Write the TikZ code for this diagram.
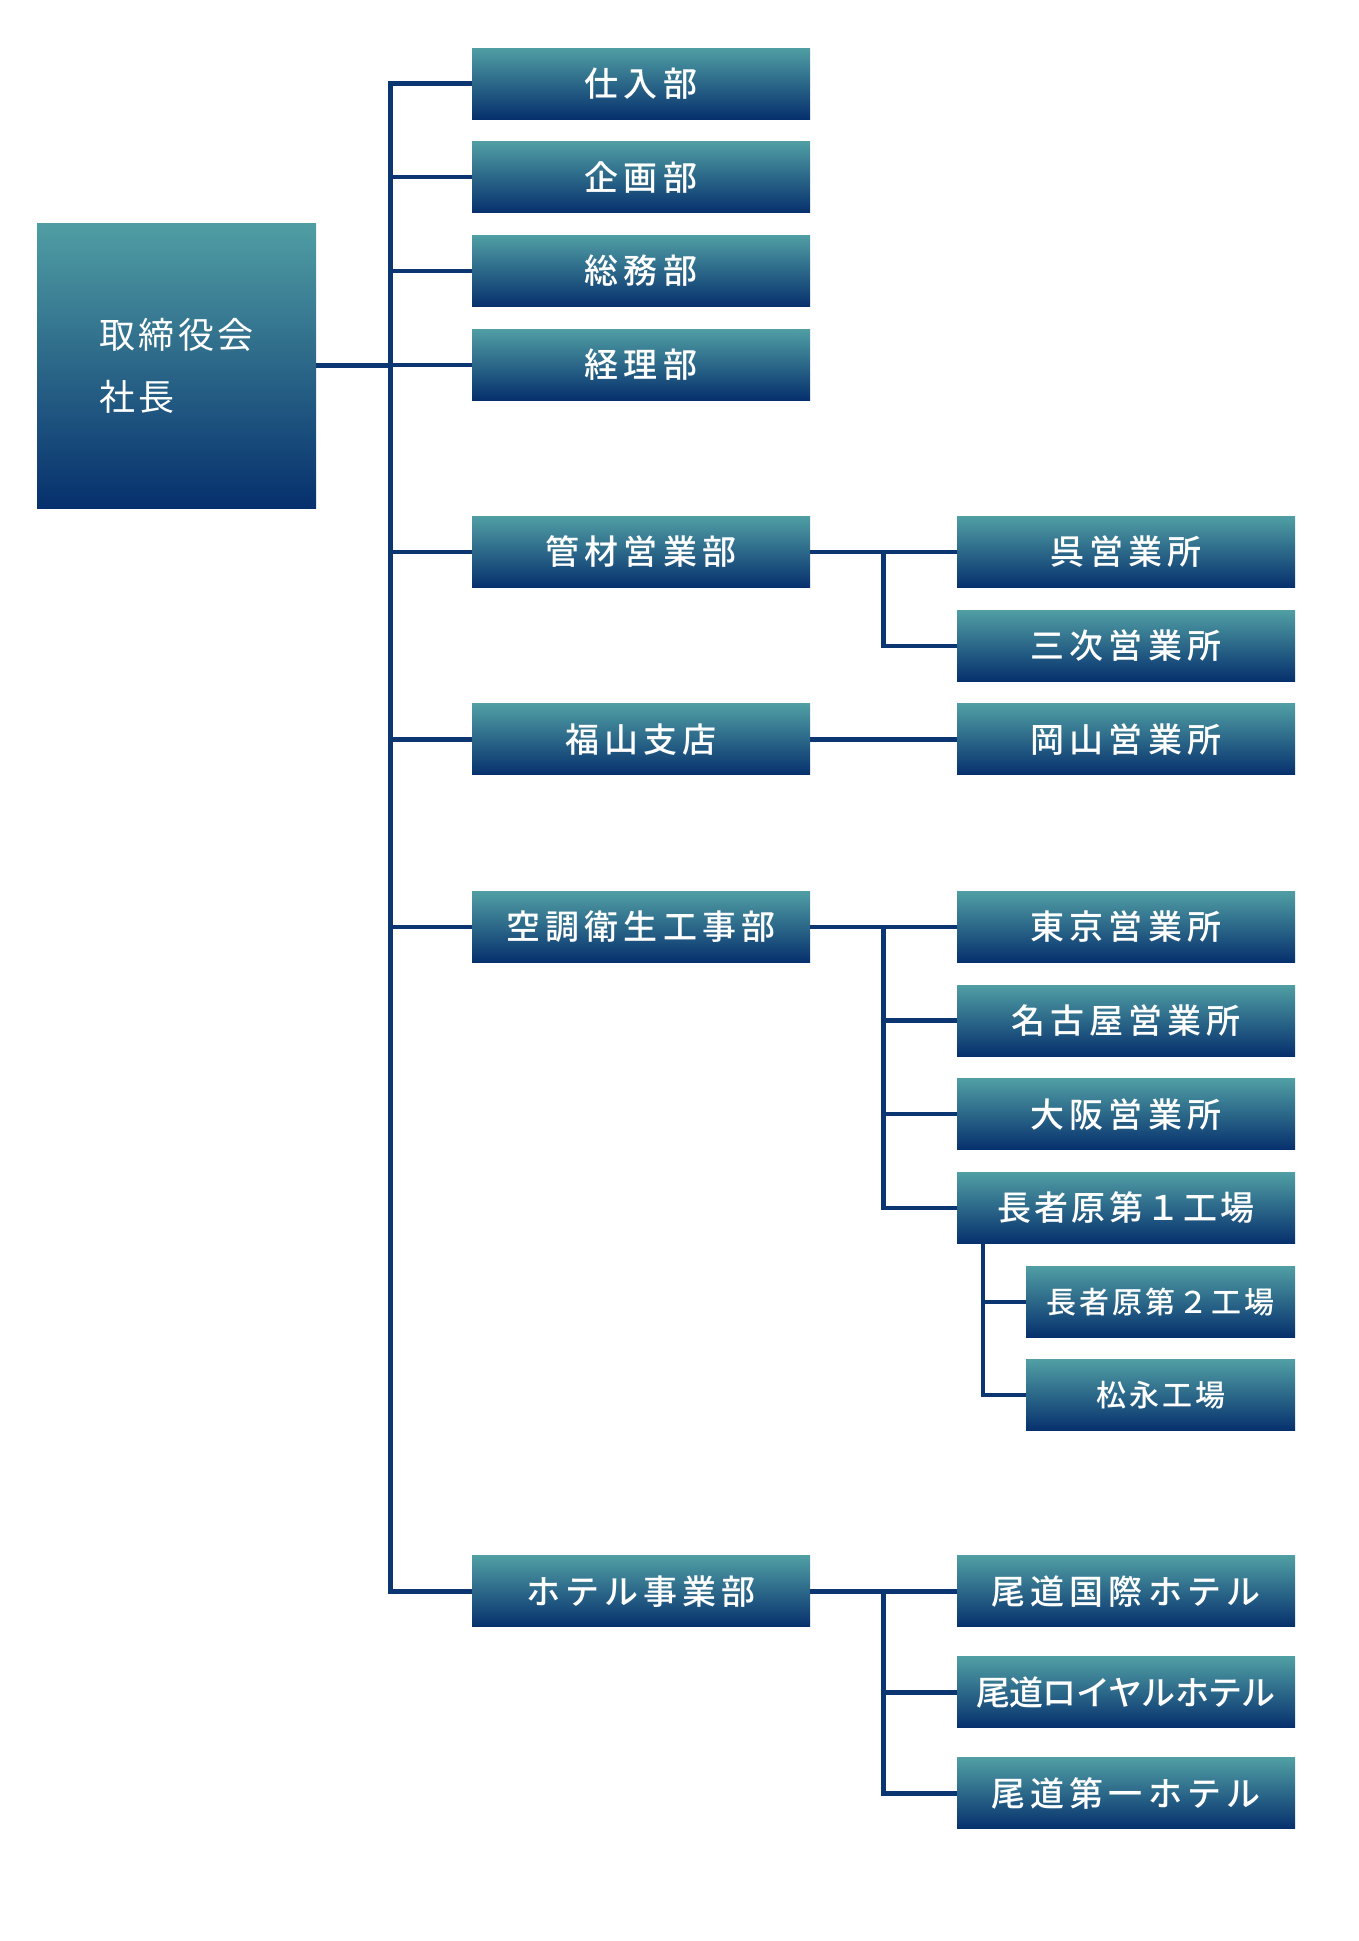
\documentclass[tikz,border=0pt]{standalone}
\usepackage{fontspec}
\usepackage{tikz}
\usetikzlibrary{positioning}
\newfontfamily\jpfont{Noto Sans CJK JP}[BoldFont={Noto Sans CJK JP Medium}]
\definecolor{boxtop}{HTML}{509EA4}
\definecolor{boxbot}{HTML}{06306D}
\definecolor{linecol}{HTML}{0C3672}
\tikzset{
    board/.style={
           rectangle,
           top color=boxtop, bottom color=boxbot,
           minimum width=279pt,
           minimum height=285pt,
           inner sep=0pt,
           text=white,
           align=left,
           font=\jpfont\fontsize{36}{62}\selectfont\addfontfeatures{LetterSpace=10}},
    depts/.style={
           rectangle,
           top color=boxtop, bottom color=boxbot,
           minimum width=338pt,
           minimum height=71pt,
           inner sep=0pt, outer sep=0pt,
           text=white,
           font=\jpfont\bfseries\fontsize{34}{34}\selectfont\addfontfeatures{LetterSpace=15}},
    subs/.style={
           depts,
           minimum width=269pt,
           font=\jpfont\bfseries\fontsize{30}{30}\selectfont\addfontfeatures{LetterSpace=10}},
    % Define connector style
    links/.style={
           draw=linecol,
           line width=4.2pt}
}
\begin{document}
\begin{tikzpicture}[x=1pt, y=-1pt, node distance=22.7pt]
	\useasboundingbox (0,0) rectangle (1358,1941);
	\node[board] (board) at (176.5,365.5) {取締役会\\社長};

	\node[depts] (shiire) at (641,83.5) {仕入部};
	\node[depts, below=of shiire] (kikaku) {企画部};
	\node[depts, below=of kikaku] (somu) {総務部};
	\node[depts, below=of somu] (keiri) {経理部};
	\node[depts, below=116.4pt of keiri] (kanzai) {管材営業部};
	\node[depts, below=116.4pt of kanzai] (fukuyama) {福山支店};
	\node[depts, below=116.4pt of fukuyama] (kucho) {空調衛生工事部};
	\node[depts, below=593.6pt of kucho] (hotel) {ホテル事業部};

	\node[depts, right=147pt of kanzai] (kure) {呉営業所};
	\node[depts, below=of kure] (miyoshi) {三次営業所};
	\node[depts, right=147pt of fukuyama] (okayama) {岡山営業所};
	\node[depts, right=147pt of kucho] (tokyo) {東京営業所};
	\node[depts, below=of tokyo] (nagoya) {名古屋営業所};
	\node[depts, below=of nagoya] (osaka) {大阪営業所};
	\node[depts, below=of osaka,
	      font=\jpfont\bfseries\fontsize{34}{34}\selectfont\addfontfeatures{LetterSpace=9}] (choja1) {長者原第１工場};
	\node[subs, below=of choja1.south east, anchor=north east] (choja2) {長者原第２工場};
	\node[subs, below=of choja2] (matsunaga) {松永工場};

	\node[depts, right=147pt of hotel] (kokusai) {尾道国際ホテル};
	\node[depts, below=30pt of kokusai,
	      font=\jpfont\bfseries\fontsize{34}{34}\selectfont\addfontfeatures{LetterSpace=-2}] (royal) {尾道ロイヤルホテル};
	\node[depts, below=30pt of royal] (daiichi) {尾道第一ホテル};

	% main trunk
	\coordinate (trunk) at (390.5,0);
	\draw[links] (shiire.west) -| (trunk |- hotel.west) -- (hotel.west);
	\foreach \d in {kikaku,somu,keiri,kanzai,fukuyama,kucho}
		\draw[links] (\d.west) -- (\d.west -| trunk);
	\draw[links] (board.east) -- (board.east -| trunk);

	% branches
	\draw[links] (kanzai) -- (kure);
	\draw[links] (kanzai.east) ++(73.5,0) |- (miyoshi.west);
	\draw[links] (fukuyama) -- (okayama);
	\draw[links] (kucho) -- (tokyo);
	\foreach \o in {nagoya,osaka,choja1}
		\draw[links] (kucho.east) ++(73.5,0) |- (\o.west);
	\foreach \o in {choja2,matsunaga}
		\draw[links] (choja1.south west) ++(26,0) |- (\o.west);
	\draw[links] (hotel) -- (kokusai);
	\foreach \o in {royal,daiichi}
		\draw[links] (hotel.east) ++(73.5,0) |- (\o.west);
\end{tikzpicture}
\end{document}
